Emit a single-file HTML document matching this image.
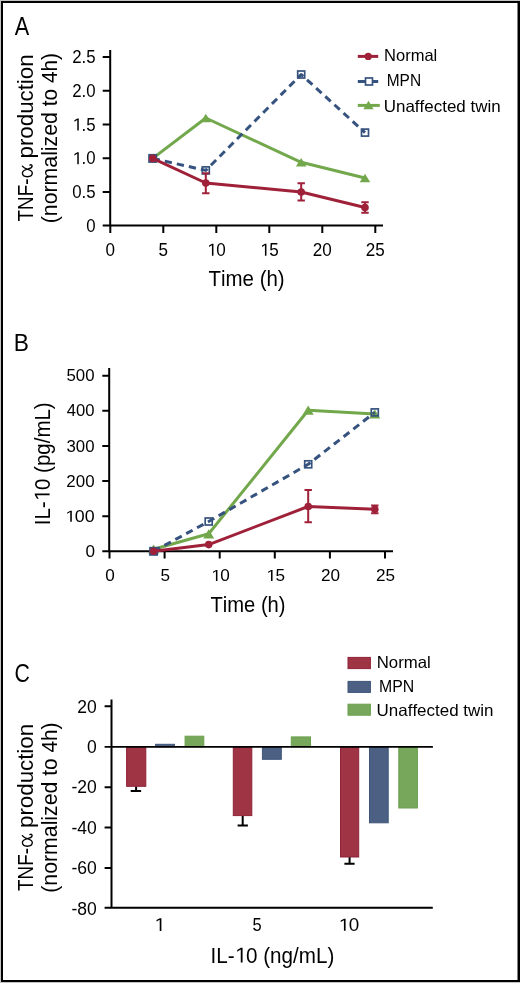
<!DOCTYPE html>
<html><head><meta charset="utf-8">
<style>
html,body{margin:0;padding:0;background:#c4c4c4;}
svg{display:block;will-change:transform;}
text{font-family:"Liberation Sans",sans-serif;fill:#000;font-kerning:none;}
</style></head>
<body>
<svg width="520" height="983" viewBox="0 0 520 983">
<rect x="1" y="1" width="519" height="981" fill="#000"/>
<rect x="3" y="3" width="514.5" height="977" fill="#fff"/>
<g fill="#000">
<!-- PANEL A -->
<text x="14.86" y="34.60" font-size="25.5" textLength="14.48" lengthAdjust="spacingAndGlyphs">A</text>
<text x="72.23" y="63.20" font-size="17.6" textLength="23.37" lengthAdjust="spacingAndGlyphs">2.5</text>
<text x="72.23" y="96.90" font-size="17.6" textLength="23.37" lengthAdjust="spacingAndGlyphs">2.0</text>
<text x="72.23" y="130.60" font-size="17.6" textLength="23.37" lengthAdjust="spacingAndGlyphs"> .5</text><path d="M615 0V1237L265 1035V1195L630 1409H796V0Z" transform="translate(72.23 130.60) scale(0.00821 -0.00859)"/>
<text x="72.23" y="164.30" font-size="17.6" textLength="23.37" lengthAdjust="spacingAndGlyphs"> .0</text><path d="M615 0V1237L265 1035V1195L630 1409H796V0Z" transform="translate(72.23 164.30) scale(0.00821 -0.00859)"/>
<text x="72.23" y="198.00" font-size="17.6" textLength="23.37" lengthAdjust="spacingAndGlyphs">0.5</text>
<text x="86.25" y="231.70" font-size="17.6" textLength="9.35" lengthAdjust="spacingAndGlyphs">0</text>
<text x="105.55" y="255.80" font-size="17.6" textLength="9.49" lengthAdjust="spacingAndGlyphs">0</text>
<text x="158.55" y="255.80" font-size="17.6" textLength="9.49" lengthAdjust="spacingAndGlyphs">5</text>
<text x="206.81" y="255.80" font-size="17.6" textLength="18.99" lengthAdjust="spacingAndGlyphs"> 0</text><path d="M615 0V1237L265 1035V1195L630 1409H796V0Z" transform="translate(206.81 255.80) scale(0.00834 -0.00859)"/>
<text x="259.81" y="255.80" font-size="17.6" textLength="18.99" lengthAdjust="spacingAndGlyphs"> 5</text><path d="M615 0V1237L265 1035V1195L630 1409H796V0Z" transform="translate(259.81 255.80) scale(0.00834 -0.00859)"/>
<text x="312.81" y="255.80" font-size="17.6" textLength="18.99" lengthAdjust="spacingAndGlyphs">20</text>
<text x="365.81" y="255.80" font-size="17.6" textLength="18.99" lengthAdjust="spacingAndGlyphs">25</text>
<text x="208.54" y="286.20" font-size="21.5" textLength="76.13" lengthAdjust="spacingAndGlyphs">Time (h)</text>
<g transform="rotate(-90)"><text x="-221.42" y="32.50" font-size="21.5" textLength="42.96" lengthAdjust="spacingAndGlyphs">TNF-</text></g>
<g transform="rotate(-90)"><path d="M11.3 -10.5C9.9 -9.3 8.9 -7.6 8.3 -5.6C7.3 -2.1 6 -0.6 4.3 -0.6C2 -0.6 0.7 -2.9 0.7 -5.6C0.7 -8.4 2.1 -10.5 4.3 -10.5C6.4 -10.5 7.7 -8.4 8.6 -4.6C9.2 -2.1 10.2 -0.8 11.5 -0.8C12.6 -0.8 13 -1.9 12.3 -3" transform="translate(-177.40 32.90)" fill="none" stroke="#000" stroke-width="1.35" stroke-linecap="round"/></g>
<g transform="rotate(-90)"><text x="-158.44" y="32.50" font-size="21.5" textLength="103.98" lengthAdjust="spacingAndGlyphs">production</text></g>
<g transform="rotate(-90)"><text x="-223.22" y="56.80" font-size="21.5" textLength="111.09" lengthAdjust="spacingAndGlyphs">(normalized</text></g>
<g transform="rotate(-90)"><text x="-106.21" y="56.80" font-size="21.5" textLength="53.10" lengthAdjust="spacingAndGlyphs">to 4h)</text></g>
<text x="384.04" y="61.10" font-size="16.5" textLength="53.26" lengthAdjust="spacingAndGlyphs">Normal</text>
<text x="386.73" y="86.00" font-size="16.5" textLength="34.33" lengthAdjust="spacingAndGlyphs">MPN</text>
<text x="383.79" y="111.50" font-size="16.5" textLength="116.81" lengthAdjust="spacingAndGlyphs">Unaffected twin</text>
<!-- PANEL B -->
<text x="13.64" y="350.60" font-size="24.5" textLength="15.16" lengthAdjust="spacingAndGlyphs">B</text>
<text x="66.53" y="381.30" font-size="16" textLength="28.03" lengthAdjust="spacingAndGlyphs">500</text>
<text x="66.82" y="416.42" font-size="16" textLength="27.73" lengthAdjust="spacingAndGlyphs">400</text>
<text x="66.56" y="451.54" font-size="16" textLength="27.99" lengthAdjust="spacingAndGlyphs">300</text>
<text x="66.35" y="486.66" font-size="16" textLength="28.21" lengthAdjust="spacingAndGlyphs">200</text>
<text x="64.90" y="521.78" font-size="16" textLength="29.70" lengthAdjust="spacingAndGlyphs"> 00</text><path d="M615 0V1237L265 1035V1195L630 1409H796V0Z" transform="translate(64.90 521.78) scale(0.00869 -0.00781)"/>
<text x="85.43" y="556.90" font-size="16" textLength="9.54" lengthAdjust="spacingAndGlyphs">0</text>
<text x="105.34" y="581.00" font-size="16" textLength="9.52" lengthAdjust="spacingAndGlyphs">0</text>
<text x="160.44" y="581.00" font-size="16" textLength="9.52" lengthAdjust="spacingAndGlyphs">5</text>
<text x="210.78" y="581.00" font-size="16" textLength="19.04" lengthAdjust="spacingAndGlyphs"> 0</text><path d="M615 0V1237L265 1035V1195L630 1409H796V0Z" transform="translate(210.78 581.00) scale(0.00836 -0.00781)"/>
<text x="265.88" y="581.00" font-size="16" textLength="19.04" lengthAdjust="spacingAndGlyphs"> 5</text><path d="M615 0V1237L265 1035V1195L630 1409H796V0Z" transform="translate(265.88 581.00) scale(0.00836 -0.00781)"/>
<text x="320.98" y="581.00" font-size="16" textLength="19.04" lengthAdjust="spacingAndGlyphs">20</text>
<text x="376.08" y="581.00" font-size="16" textLength="19.04" lengthAdjust="spacingAndGlyphs">25</text>
<text x="210.45" y="612.30" font-size="21.5" textLength="75.10" lengthAdjust="spacingAndGlyphs">Time (h)</text>
<g transform="rotate(-90)"><text x="-525.29" y="49.60" font-size="21.5" textLength="122.96" lengthAdjust="spacingAndGlyphs">IL- 0 (pg/mL)</text><path d="M615 0V1237L265 1035V1195L630 1409H796V0Z" transform="translate(-501.38 49.60) scale(0.01000 -0.01050)"/></g>
<!-- PANEL C -->
<text x="14.42" y="682.30" font-size="25.5" textLength="15.39" lengthAdjust="spacingAndGlyphs">C</text>
<text x="77.33" y="712.60" font-size="17.5">20</text>
<text x="87.07" y="753.00" font-size="17.5">0</text>
<text x="71.51" y="793.30" font-size="17.5">-20</text>
<text x="71.51" y="833.50" font-size="17.5">-40</text>
<text x="71.51" y="874.10" font-size="17.5">-60</text>
<text x="71.51" y="914.50" font-size="17.5">-80</text>
<path d="M615 0V1237L265 1035V1195L630 1409H796V0Z" transform="translate(154.05 930.90) scale(0.00923 -0.00903)"/>
<text x="252.54" y="930.80" font-size="17.5" textLength="9.15" lengthAdjust="spacingAndGlyphs">5</text>
<text x="338.26" y="930.80" font-size="17.5" textLength="20.98" lengthAdjust="spacingAndGlyphs"> 0</text><path d="M615 0V1237L265 1035V1195L630 1409H796V0Z" transform="translate(338.26 930.80) scale(0.00921 -0.00854)"/>
<text x="210.50" y="962.60" font-size="21.5" textLength="123.78" lengthAdjust="spacingAndGlyphs">IL- 0 (ng/mL)</text><path d="M615 0V1237L265 1035V1195L630 1409H796V0Z" transform="translate(234.56 962.60) scale(0.01007 -0.01050)"/>
<g transform="rotate(-90)"><text x="-890.92" y="32.50" font-size="21.5" textLength="42.96" lengthAdjust="spacingAndGlyphs">TNF-</text></g>
<g transform="rotate(-90)"><path d="M11.3 -10.5C9.9 -9.3 8.9 -7.6 8.3 -5.6C7.3 -2.1 6 -0.6 4.3 -0.6C2 -0.6 0.7 -2.9 0.7 -5.6C0.7 -8.4 2.1 -10.5 4.3 -10.5C6.4 -10.5 7.7 -8.4 8.6 -4.6C9.2 -2.1 10.2 -0.8 11.5 -0.8C12.6 -0.8 13 -1.9 12.3 -3" transform="translate(-846.90 32.90)" fill="none" stroke="#000" stroke-width="1.35" stroke-linecap="round"/></g>
<g transform="rotate(-90)"><text x="-827.94" y="32.50" font-size="21.5" textLength="103.98" lengthAdjust="spacingAndGlyphs">production</text></g>
<g transform="rotate(-90)"><text x="-892.72" y="56.80" font-size="21.5" textLength="111.09" lengthAdjust="spacingAndGlyphs">(normalized</text></g>
<g transform="rotate(-90)"><text x="-775.71" y="56.80" font-size="21.5" textLength="53.10" lengthAdjust="spacingAndGlyphs">to 4h)</text></g>
<text x="376.73" y="668.10" font-size="16.5" textLength="54.00" lengthAdjust="spacingAndGlyphs">Normal</text>
<text x="379.10" y="692.40" font-size="16.5" textLength="35.19" lengthAdjust="spacingAndGlyphs">MPN</text>
<text x="376.59" y="716.00" font-size="16.5" textLength="116.91" lengthAdjust="spacingAndGlyphs">Unaffected twin</text>
</g>
<g stroke="#000" stroke-width="2" fill="none">
<path d="M110.2 50V225.6M102.7 225.6H383"/>
<path d="M102.7 191.9H110.2M102.7 158.2H110.2M102.7 124.5H110.2M102.7 90.8H110.2M102.7 57.1H110.2"/>
<path d="M110.3 225.6V232.9M163.3 225.6V232.9M216.3 225.6V232.9M269.3 225.6V232.9M322.3 225.6V232.9M375.3 225.6V232.9"/>
</g>
<polyline points="152.7,158.4 205.8,118 301.2,162.3 365.0,178" fill="none" stroke="#72a84b" stroke-width="3" stroke-linejoin="round"/>
<path d="M205.8 113.8L211.1 122.2H200.5Z" fill="#72a84b"/>
<path d="M301.2 158.1L306.5 166.6H295.9Z" fill="#72a84b"/>
<path d="M365.0 173.8L370.3 182.2H359.7Z" fill="#72a84b"/>
<polyline points="152.7,158.4 205.8,170.4 301.2,74.5 365.0,132.6" fill="none" stroke="#36527e" stroke-width="3" stroke-linejoin="round" stroke-dasharray="7.3 5.05"/>
<rect x="148.2" y="153.9" width="9" height="9" fill="#36527e"/>
<rect x="202.30" y="166.90" width="7.0" height="7.0" fill="none" stroke="#36527e" stroke-width="1.7"/>
<rect x="297.70" y="71.00" width="7.0" height="7.0" fill="none" stroke="#36527e" stroke-width="1.7"/>
<rect x="361.50" y="129.10" width="7.0" height="7.0" fill="none" stroke="#36527e" stroke-width="1.7"/>
<path d="M205.8 173.2V193.3M202.1 173.2H209.5M202.1 193.3H209.5" stroke="#9f2139" stroke-width="2" fill="none"/>
<path d="M301.2 183.3V200.5M297.5 183.3H304.9M297.5 200.5H304.9" stroke="#9f2139" stroke-width="2" fill="none"/>
<path d="M365.0 202.2V212.7M361.3 202.2H368.7M361.3 212.7H368.7" stroke="#9f2139" stroke-width="2" fill="none"/>
<polyline points="152.7,158.4 205.8,183.0 301.2,192 365.0,207.5" fill="none" stroke="#9f2139" stroke-width="3" stroke-linejoin="round"/>
<circle cx="152.7" cy="158.4" r="3.8" fill="#9f2139"/>
<circle cx="205.8" cy="183.0" r="3.8" fill="#9f2139"/>
<circle cx="301.2" cy="192" r="3.8" fill="#9f2139"/>
<circle cx="365.0" cy="207.5" r="3.8" fill="#9f2139"/>
<path d="M357.8 56.4H378.2" stroke="#9f2139" stroke-width="3"/>
<circle cx="368.2" cy="56.4" r="3.6" fill="#9f2139"/>
<path d="M357.8 81.5H378.2" stroke="#36527e" stroke-width="3"/>
<rect x="365.50" y="78.00" width="7.0" height="7.0" fill="#fff" stroke="#36527e" stroke-width="1.7"/>
<path d="M357.8 105.4H379.8" stroke="#72a84b" stroke-width="3"/>
<path d="M368.5 100.8L373.6 109.2H363.4Z" fill="#72a84b"/>
<g stroke="#000" stroke-width="2" fill="none">
<path d="M109.2 368V551.3M102.3 551.3H393"/>
<path d="M102.3 516.2H109.2M102.3 481.1H109.2M102.3 445.9H109.2M102.3 410.8H109.2M102.3 375.7H109.2"/>
<path d="M109.5 551.3V558.5M164.6 551.3V558.5M219.7 551.3V558.5M274.8 551.3V558.5M329.9 551.3V558.5M385.0 551.3V558.5"/>
</g>
<polyline points="153.6,549.2 208.7,533.8 308.2,410.2 374.8,414.0" fill="none" stroke="#72a84b" stroke-width="3" stroke-linejoin="round"/>
<path d="M153.6 544.6L159.1 553.8H148.1Z" fill="#72a84b"/>
<path d="M208.7 529.2L214.2 538.4H203.2Z" fill="#72a84b"/>
<path d="M308.2 405.6L313.7 414.8H302.7Z" fill="#72a84b"/>
<path d="M374.8 409.4L380.3 418.6H369.3Z" fill="#72a84b"/>
<polyline points="153.6,551.3 208.7,521.5 308.2,464.3 374.8,412.4" fill="none" stroke="#36527e" stroke-width="3" stroke-linejoin="round" stroke-dasharray="7.3 5.05"/>
<rect x="149.1" y="546.8" width="9" height="9" fill="#36527e"/>
<rect x="205.20" y="518.00" width="7.0" height="7.0" fill="none" stroke="#36527e" stroke-width="1.7"/>
<rect x="304.70" y="460.80" width="7.0" height="7.0" fill="none" stroke="#36527e" stroke-width="1.7"/>
<rect x="371.30" y="408.90" width="7.0" height="7.0" fill="none" stroke="#36527e" stroke-width="1.7"/>
<path d="M308.2 490.0V522.2M304.5 490.0H311.9M304.5 522.2H311.9" stroke="#9f2139" stroke-width="2" fill="none"/>
<path d="M374.8 505.5V513.2M371.1 505.5H378.5M371.1 513.2H378.5" stroke="#9f2139" stroke-width="2" fill="none"/>
<polyline points="153.6,551.3 208.7,544.6 308.2,506.5 374.8,509.3" fill="none" stroke="#9f2139" stroke-width="3" stroke-linejoin="round"/>
<circle cx="153.6" cy="551.3" r="3.8" fill="#9f2139"/>
<circle cx="208.7" cy="544.6" r="3.8" fill="#9f2139"/>
<circle cx="308.2" cy="506.5" r="3.8" fill="#9f2139"/>
<circle cx="374.8" cy="509.3" r="3.8" fill="#9f2139"/>
<rect x="126.6" y="746.8" width="19.2" height="39.5" fill="#9f3445" stroke="#8e2236" stroke-width="1"/>
<rect x="155.6" y="744.3" width="18.9" height="2.5" fill="#4b6083" stroke="#3f5479" stroke-width="1"/>
<rect x="185.1" y="736.2" width="18.7" height="10.6" fill="#76a75a" stroke="#6aa04c" stroke-width="1"/>
<rect x="233.3" y="746.8" width="18.5" height="68.8" fill="#9f3445" stroke="#8e2236" stroke-width="1"/>
<rect x="262.4" y="746.8" width="18.9" height="12.5" fill="#4b6083" stroke="#3f5479" stroke-width="1"/>
<rect x="291.3" y="736.9" width="19.2" height="9.9" fill="#76a75a" stroke="#6aa04c" stroke-width="1"/>
<rect x="340.5" y="746.8" width="18.2" height="110.2" fill="#9f3445" stroke="#8e2236" stroke-width="1"/>
<rect x="369.5" y="746.8" width="18.7" height="76.0" fill="#4b6083" stroke="#3f5479" stroke-width="1"/>
<rect x="398.8" y="746.8" width="18.6" height="61.2" fill="#76a75a" stroke="#6aa04c" stroke-width="1"/>
<path d="M136.1 786.8V790.9M130.7 790.9H141.1M242.7 816V825.6M237.6 825.6H247.9M349.6 857.3V863.7M344.4 863.7H354.6" stroke="#000" stroke-width="2" fill="none"/>
<g stroke="#000" stroke-width="2" fill="none">
<path d="M111.5 699.5V908M104.6 907.8H432.8"/>
<path d="M104.6 706.3H111.5M104.6 787.3H111.5M104.6 827.5H111.5M104.6 868H111.5"/>
<path d="M104.6 746.8H432.9" stroke-width="1.8"/>
</g>
<rect x="348" y="657.4" width="22.4" height="11.2" fill="#9f3445" stroke="#8e2236"/>
<rect x="348" y="681.4" width="22.4" height="11" fill="#4b6083" stroke="#3f5479"/>
<rect x="348" y="704.2" width="22.4" height="11" fill="#76a75a" stroke="#6aa04c"/>
</svg>
</body></html>
